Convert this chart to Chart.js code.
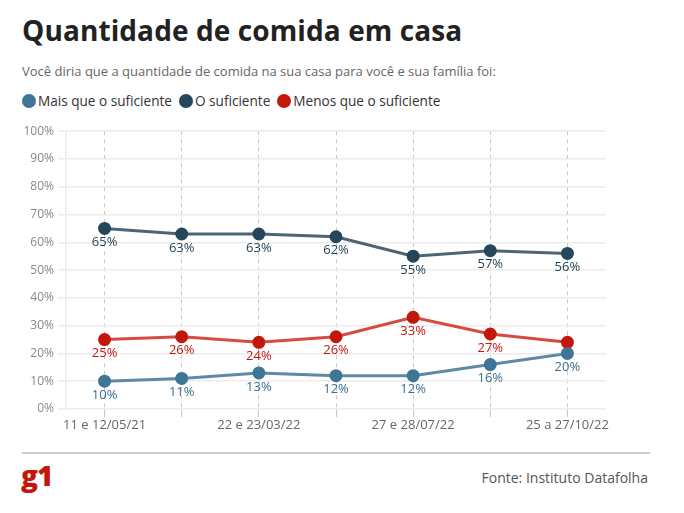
<!DOCTYPE html>
<html>
<head>
<meta charset="utf-8">
<script src="https://cdn.jsdelivr.net/npm/chart.js@4.4.0/dist/chart.umd.min.js"></script>
<style>
  body { margin: 0; width: 684px; height: 513px; background: #fff; font-family: "Open Sans", sans-serif; position: relative; overflow: hidden; }
  #title { position: absolute; left: 22px; top: 11px; font-size: 28px; font-weight: 700; color: #222; letter-spacing: 0.1px; }
  #subtitle { position: absolute; left: 22px; top: 62px; font-size: 13px; color: #666; }
  #legend { position: absolute; left: 22px; top: 91px; font-size: 13.6px; color: #333; display: flex; }
  #legend span.item { display: flex; align-items: center; margin-right: 7px; }
  #legend span.dot { width: 14px; height: 14px; border-radius: 50%; margin-right: 2px; display: inline-block; }
  #wrap { position: absolute; left: 0; top: 120px; width: 684px; height: 330px; }
  #rule { position: absolute; left: 22px; top: 452px; width: 628px; height: 2px; background: #ccc; }
  #logo { position: absolute; left: 21px; top: 456px; font-size: 28px; font-weight: 800; color: #c4170c; letter-spacing: -1px; font-family: "Open Sans", sans-serif; }
  #source { position: absolute; right: 36px; top: 468px; font-size: 14px; color: #555; }
</style>
</head>
<body>
<div id="title">Quantidade de comida em casa</div>
<div id="subtitle">Você diria que a quantidade de comida na sua casa para você e sua família foi:</div>
<div id="legend"></div>
<div id="wrap"><canvas id="chart"></canvas></div>
<div id="rule"></div>
<div id="logo">g1</div>
<div id="source">Fonte: Instituto Datafolha</div>
<script>
// pesquisas (so as datas visiveis no eixo)
const dates = ['11 e 12/05/21', '', '22 e 23/03/22', '', '27 e 28/07/22', '', '25 a 27/10/22'];

const seriesNames = ['Mais que o suficiente', 'O suficiente', 'Menos que o suficiente'];
const maisQue = [10, 11, 13, 12, 12, 16, 20];
const suficiente = [65, 63, 63, 62, 55, 57, 56];
const menosQue = [25, 26, 24, 26, 33, 27, 24];

const yTicks = [0, 10, 20, 30, 40, 50, 60, 70, 80, 90, 100];

const pointColors = ['#3f7596', '#25465b', '#c4170c'];
const lineColors = ['#5d8ba6', '#4b6576', '#d64a44'];
const labelColors = ['#3a6f90', '#1f3e52', '#c4170c'];

// legenda em html
const legend = document.getElementById('legend');
seriesNames.forEach((name, i) => {
    const item = document.createElement('span');
    item.className = 'item';
    item.innerHTML = `<span class="dot" style="background:${pointColors[i]}"></span>${name}`;
    legend.appendChild(item);
});

// rotulos de valor abaixo de cada ponto (pula quando bate em outro ponto)
const valueLabels = {
    id: 'valueLabels',
    afterDatasetsDraw(chart) {
        const ctx = chart.ctx;
        const metas = chart.data.datasets.map((ds, i) => chart.getDatasetMeta(i));
        ctx.save();
        ctx.font = '13px "Open Sans", sans-serif';
        ctx.textAlign = 'center';
        ctx.textBaseline = 'middle';
        chart.data.datasets.forEach((ds, i) => {
            ctx.fillStyle = labelColors[i];
            metas[i].data.forEach((pt, j) => {
                const ly = pt.y + 14;
                const hit = metas.some((m, k) => k !== i && Math.abs(m.data[j].y - ly) < 10);
                if (hit) return;
                ctx.fillText(ds.data[j] + '%', pt.x, ly);
            });
        });
        ctx.restore();
    }
};

const allSeries = [maisQue, suficiente, menosQue];

new Chart(document.getElementById('chart'), {
    type: 'line',
    data: {
        labels: dates,
        datasets: allSeries.map((values, i) => ({
            label: seriesNames[i],
            data: values,
            borderColor: lineColors[i],
            backgroundColor: pointColors[i],
            pointBackgroundColor: pointColors[i],
            pointBorderColor: pointColors[i],
            pointRadius: 5,
            borderWidth: 3,
            tension: 0,
            fill: false
        }))
    },
    options: {
        responsive: true,
        maintainAspectRatio: false,
        animation: false,
        layout: { padding: { top: 11, right: 78, bottom: 0, left: 0 } },
        plugins: { legend: { display: false }, tooltip: { enabled: false } },
        scales: {
            x: {
                offset: true,
                afterFit: s => { s.height = 41; },
                grid: { offset: false, color: '#c8c8c8', lineWidth: 1, tickLength: 8 },
                border: { display: false, dash: [4, 4] },
                ticks: {
                    autoSkip: false,
                    maxRotation: 0,
                    padding: 0,
                    color: '#666',
                    font: { family: '"Open Sans", sans-serif', size: 13 }
                }
            },
            y: {
                min: 0,
                max: 100,
                afterFit: s => { s.width = 66; },
                afterBuildTicks: s => { s.ticks = yTicks.map(v => ({ value: v })); },
                grid: { color: '#ececec', lineWidth: 1.5, tickLength: 8 },
                border: { color: '#ececec', width: 1.5 },
                ticks: {
                    padding: 4,
                    color: '#888',
                    font: { family: '"Open Sans", sans-serif', size: 12 },
                    callback: v => v + '%'
                }
            }
        }
    },
    plugins: [valueLabels]
});
</script>
</body>
</html>
